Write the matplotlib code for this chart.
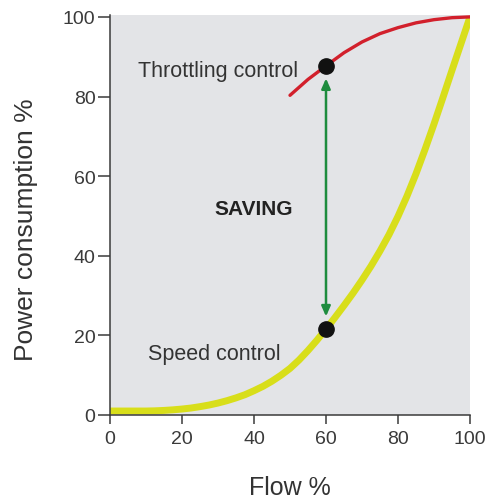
import matplotlib

matplotlib.use("Agg")
import matplotlib.pyplot as plt

OUTPUT_FILENAME = "out.png"

# Speed control curve (flow %, power %), every 2.5 %
SPEED_FLOW = [0, 2.5, 5, 7.5, 10, 12.5, 15, 17.5, 20, 22.5, 25, 27.5, 30, 32.5, 35, 37.5, 40,
              42.5, 45, 47.5, 50, 52.5, 55, 57.5, 60, 62.5, 65, 67.5, 70, 72.5, 75, 77.5, 80,
              82.5, 85, 87.5, 90, 92.5, 95, 97.5, 100]
SPEED_POWER = [1.0, 1.0, 1.0, 1.0, 1.0, 1.05, 1.15, 1.3, 1.5, 1.75, 2.1, 2.5, 3.0, 3.6, 4.3,
               5.1, 6.1, 7.2, 8.5, 10.0, 11.7, 13.8, 16.2, 18.8, 21.6, 24.5, 27.5, 30.6, 33.9,
               37.4, 41.2, 45.3, 49.9, 55.0, 60.6, 66.7, 73.1, 79.8, 86.6, 93.3, 100.0]

# Throttling control curve (flow %, power %)
THROTTLE_FLOW = [50, 55, 60, 65, 70, 75, 80, 85, 90, 95, 100]
THROTTLE_POWER = [80.3, 84.3, 87.7, 91.0, 93.7, 95.8, 97.3, 98.5, 99.3, 99.8, 100.0]

OPERATING_FLOW = 60
X_TICKS = [0, 20, 40, 60, 80, 100]
Y_TICKS = [0, 20, 40, 60, 80, 100]

BG_COLOR = "#e3e4e7"
TEXT_COLOR = "#333333"
YELLOW = "#d8de1a"
RED = "#d2202c"
GREEN = "#1e8c3e"


def main() -> None:
    plt.rcParams["font.family"] = ["Liberation Sans", "DejaVu Sans"]

    fig = plt.figure(figsize=(4.88, 5.02), dpi=100)
    ax = fig.add_axes([110 / 488, 86 / 502, 360 / 488, 400.5 / 502])
    ax.set_facecolor(BG_COLOR)

    ax.plot(SPEED_FLOW, SPEED_POWER, color=YELLOW, lw=5, solid_capstyle="butt",
            solid_joinstyle="round", zorder=2)
    ax.plot(THROTTLE_FLOW, THROTTLE_POWER, color=RED, lw=2.4, solid_capstyle="round",
            solid_joinstyle="round", zorder=3)

    # operating points at 60 % flow
    y_speed = SPEED_POWER[SPEED_FLOW.index(OPERATING_FLOW)]
    y_throttle = THROTTLE_POWER[THROTTLE_FLOW.index(OPERATING_FLOW)]
    ax.annotate("", xy=(OPERATING_FLOW, y_speed), xytext=(OPERATING_FLOW, y_throttle),
                arrowprops=dict(arrowstyle="<|-|>,head_length=0.5,head_width=0.22",
                                color=GREEN, lw=1.8, mutation_scale=12,
                                shrinkA=9, shrinkB=9), zorder=4)
    ax.plot([OPERATING_FLOW, OPERATING_FLOW], [y_speed, y_throttle], ls="none",
            marker="o", ms=11, color="#111111", zorder=5)

    ax.text(52.3, 85.1, "Throttling control", ha="right", va="baseline",
            fontsize=15.5, color=TEXT_COLOR)
    ax.text(39.9, 50.5, "SAVING", ha="center", va="baseline",
            fontsize=15, fontweight="bold", color="#222222")
    ax.text(29.1, 14.1, "Speed control", ha="center", va="baseline",
            fontsize=15.5, color=TEXT_COLOR)

    ax.set_xlim(0, 100)
    ax.set_ylim(0, 100.6)
    ax.set_xticks(X_TICKS)
    ax.set_yticks(Y_TICKS)

    for side in ("top", "right"):
        ax.spines[side].set_visible(False)
    for side in ("left", "bottom"):
        ax.spines[side].set_color("#3a3a3a")
        ax.spines[side].set_linewidth(1.1)

    ax.tick_params(axis="x", direction="out", length=6.5, width=1.1, pad=4.5,
                   labelsize=14, colors="#3a3a3a")
    ax.tick_params(axis="y", direction="out", length=8.5, width=1.1, pad=2,
                   labelsize=14, colors="#3a3a3a")

    ax.set_xlabel("Flow %", fontsize=18, color=TEXT_COLOR, va="center")
    ax.xaxis.set_label_coords(0.5, -0.18)
    ax.set_ylabel("Power consumption %", fontsize=19, color=TEXT_COLOR, va="center")
    ax.yaxis.set_label_coords(-0.232, 0.465)

    fig.savefig(OUTPUT_FILENAME, dpi=100)


if __name__ == "__main__":
    main()
